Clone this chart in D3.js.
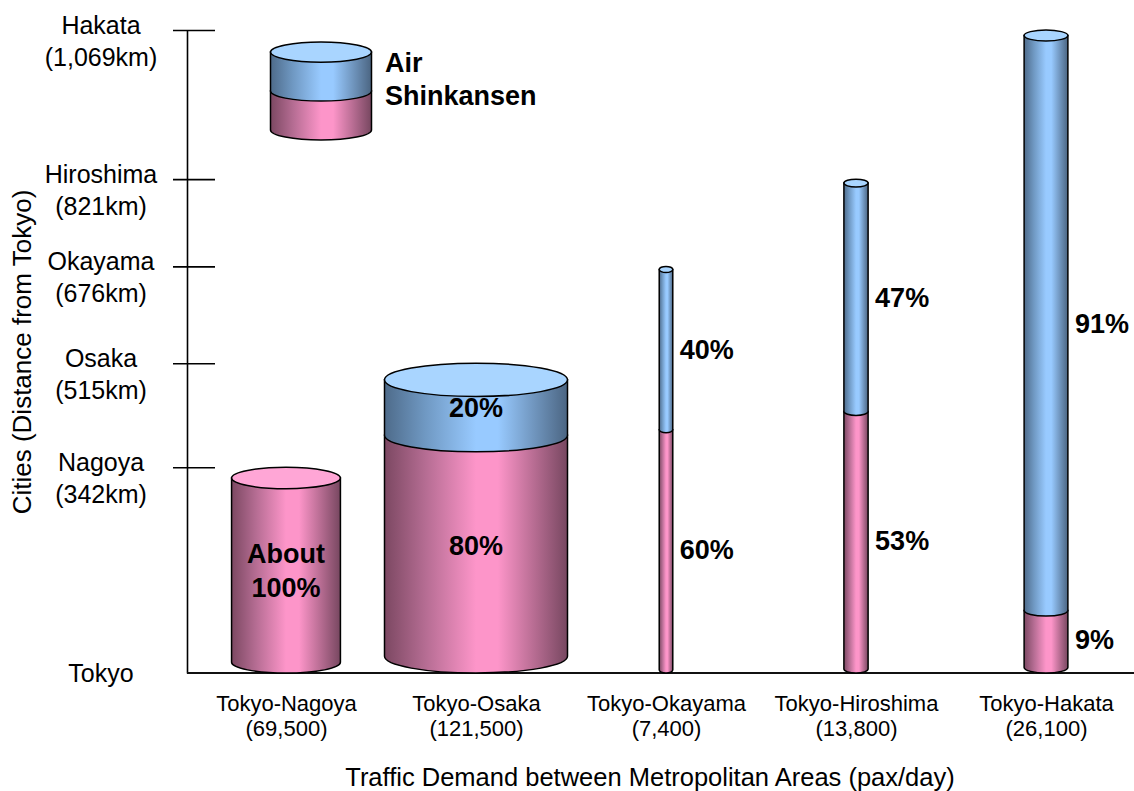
<!DOCTYPE html>
<html>
<head>
<meta charset="utf-8">
<script src="https://cdn.jsdelivr.net/npm/d3@7"></script>
<style>
  html, body { margin: 0; padding: 0; background: #ffffff; }
  svg { display: block; }
  text { font-family: "Liberation Sans", Arial, sans-serif; fill: #000; }
</style>
</head>
<body>
<svg id="chart" width="1134" height="791"></svg>
<script>
// ---------------- data ----------------
const categories = ["Tokyo-Nagoya", "Tokyo-Osaka", "Tokyo-Okayama", "Tokyo-Hiroshima", "Tokyo-Hakata"];
const trafficLabels = ["(69,500)", "(121,500)", "(7,400)", "(13,800)", "(26,100)"];
const traffic = [69500, 121500, 7400, 13800, 26100];          // pax/day
const distanceKm = [342, 515, 676, 821, 1069];                 // destination distance
const airShare = [0, 20, 40, 47, 91];                          // %
const shinkansenShare = [100, 80, 60, 53, 9];                  // %
const airLabels = ["", "20%", "40%", "47%", "91%"];
const shinkansenLabels = [["About", "100%"], ["80%"], ["60%"], ["53%"], ["9%"]];
const cityNames = ["Tokyo", "Nagoya", "Osaka", "Okayama", "Hiroshima", "Hakata"];
const cityDistLabels = ["", "(342km)", "(515km)", "(676km)", "(821km)", "(1,069km)"];
const cityDist = [0, 342, 515, 676, 821, 1069];
const legendLabels = ["Air", "Shinkansen"];

// ---------------- layout ----------------
const svg = d3.select("#chart");
const W = 1134, H = 791;
const axisX = 187;

const y = d3.scaleLinear().domain([0, 1069]).range([673, 30]);
const x = d3.scalePoint().domain(categories).range([286, 1046]);
const wScale = d3.scalePow().exponent(0.93).domain([0, 121500]).range([0, 183]);

// ---------------- gradients ----------------
const defs = svg.append("defs");
function sideGrad(id, dark1, mid, light, dark2) {
  const g = defs.append("linearGradient").attr("id", id)
    .attr("x1", "0%").attr("x2", "100%").attr("y1", "0%").attr("y2", "0%");
  g.append("stop").attr("offset", "0%").attr("stop-color", dark1);
  g.append("stop").attr("offset", "22%").attr("stop-color", mid);
  g.append("stop").attr("offset", "50%").attr("stop-color", light);
  g.append("stop").attr("offset", "62%").attr("stop-color", light);
  g.append("stop").attr("offset", "100%").attr("stop-color", dark2);
}
sideGrad("pinkSide", "#7c4862", "#b46c92", "#fd95c9", "#774760");
sideGrad("blueSide", "#4e6b8a", "#6f98c2", "#98caff", "#4b6582");
const pinkTop = "#ffa6d6";
const blueTop = "#a9d5ff";

// ---------------- cylinder drawing ----------------
function drawCylinder(g, cx, w, yTopEdge, yBase, airFrac) {
  const rx = w / 2;
  const ry = 2 + 0.08 * w;
  const yTop = yTopEdge + ry;
  const yBot = yBase - ry;
  const ySplit = yTop + airFrac * (yBot - yTop);
  const L = cx - rx, R = cx + rx;
  g.append("path")
    .attr("d", `M${L},${ySplit} L${L},${yBot} A${rx},${ry} 0 0 0 ${R},${yBot} L${R},${ySplit} Z`)
    .attr("fill", "url(#pinkSide)").attr("stroke", "#000").attr("stroke-width", 1.5);
  if (airFrac > 0) {
    g.append("path")
      .attr("d", `M${L},${yTop} L${L},${ySplit} A${rx},${ry} 0 0 0 ${R},${ySplit} L${R},${yTop} Z`)
      .attr("fill", "url(#blueSide)").attr("stroke", "#000").attr("stroke-width", 1.5);
  }
  g.append("ellipse")
    .attr("cx", cx).attr("cy", yTop).attr("rx", rx).attr("ry", ry)
    .attr("fill", airFrac > 0 ? blueTop : pinkTop)
    .attr("stroke", "#000").attr("stroke-width", 1.5);
  return { yTop, yBot, ySplit, rx };
}

// ---------------- y axis ----------------
const yAxis = d3.axisLeft(y).tickValues(cityDist).tickSize(14).tickSizeOuter(0).tickFormat("");
const yAxisG = svg.append("g").attr("transform", `translate(${axisX},0)`).call(yAxis);
yAxisG.select(".domain").attr("stroke", "#000").attr("stroke-width", 1.6);
yAxisG.selectAll(".tick line")
  .attr("x1", 28).attr("x2", -14)
  .attr("stroke", "#000").attr("stroke-width", 1.6)
  .attr("display", d => d === 0 ? "none" : null);

yAxisG.selectAll(".tick").each(function (d) {
  const i = cityDist.indexOf(d);
  const t = d3.select(this).append("text")
    .attr("text-anchor", "middle")
    .attr("font-size", 25)
    .attr("x", -86);
  if (d === 0) {
    t.attr("y", 0).attr("dy", "0.35em").text(cityNames[i]);
  } else {
    t.append("tspan").attr("x", -86).attr("y", 3).text(cityNames[i]);
    t.append("tspan").attr("x", -86).attr("y", 35).text(cityDistLabels[i]);
  }
});

// ---------------- x axis ----------------
svg.append("line")
  .attr("x1", axisX).attr("x2", W).attr("y1", y(0)).attr("y2", y(0))
  .attr("stroke", "#111").attr("stroke-width", 2);

const xAxis = d3.axisBottom(x).tickSize(0).tickFormat("");
const xAxisG = svg.append("g").attr("transform", `translate(0,${y(0)})`).call(xAxis);
xAxisG.select(".domain").remove();
xAxisG.selectAll(".tick").each(function (d) {
  const i = categories.indexOf(d);
  const g = d3.select(this);
  g.append("text").attr("text-anchor", "middle").attr("font-size", 22)
    .attr("x", 0).attr("y", 38).text(d);
  g.append("text").attr("text-anchor", "middle").attr("font-size", 22)
    .attr("x", 0).attr("y", 63).text(trafficLabels[i]);
});

// axis titles
svg.append("text")
  .attr("x", 650).attr("y", 786)
  .attr("text-anchor", "middle").attr("font-size", 25.5)
  .text("Traffic Demand between Metropolitan Areas (pax/day)");
svg.append("text")
  .attr("transform", "translate(31,352) rotate(-90)")
  .attr("text-anchor", "middle").attr("font-size", 26)
  .text("Cities (Distance from Tokyo)");

// ---------------- cylinders ----------------
const cylG = svg.append("g");
categories.forEach((c, i) => {
  const cx = x(c);
  const w = wScale(traffic[i]);
  const g = cylG.append("g");
  const geo = drawCylinder(g, cx, w, y(distanceKm[i]), y(0), airShare[i] / 100);
  const inside = w > 80;
  const lx = inside ? cx : cx + geo.rx + 7;
  const anchor = inside ? "middle" : "start";
  const fs = 27;
  const pinkMid = (geo.ySplit + geo.yBot) / 2;
  const lines = shinkansenLabels[i];
  const lh = 34;
  const t = g.append("text")
    .attr("text-anchor", anchor).attr("font-size", fs).attr("font-weight", "bold");
  lines.forEach((ln, k) => {
    t.append("tspan").attr("x", lx)
      .attr("y", pinkMid + (k - (lines.length - 1) / 2) * lh)
      .attr("dy", "0.35em").text(ln);
  });
  if (airLabels[i]) {
    const blueMid = (geo.yTop + geo.ySplit) / 2;
    g.append("text")
      .attr("x", lx).attr("y", blueMid).attr("dy", "0.35em")
      .attr("text-anchor", anchor).attr("font-size", fs).attr("font-weight", "bold")
      .text(airLabels[i]);
  }
});

// ---------------- legend ----------------
const lg = svg.append("g");
drawCylinder(lg, 321, 101, 42, 140, 0.5);
lg.append("text").attr("x", 385).attr("y", 72)
  .attr("font-size", 27).attr("font-weight", "bold").text(legendLabels[0]);
lg.append("text").attr("x", 385).attr("y", 105)
  .attr("font-size", 27).attr("font-weight", "bold").text(legendLabels[1]);
</script>
</body>
</html>
